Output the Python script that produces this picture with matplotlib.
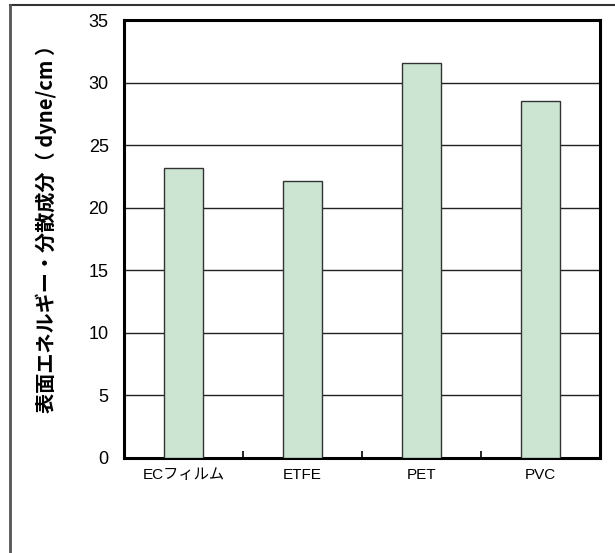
# coding: utf-8
'''
Bar chart of surface energy (dispersion component) per film
'''

import matplotlib.pyplot as plt
from matplotlib.lines import Line2D

plt.rcParams['font.family'] = ['Liberation Sans', 'Noto Sans CJK JP']

# sample data
films = ['ECフィルム', 'ETFE', 'PET', 'PVC']
dispersion = [23.2, 22.1, 31.55, 28.5]
yticks = [0, 5, 10, 15, 20, 25, 30, 35]

fig = plt.figure(figsize=(6.15, 5.53), dpi=100)
ax = fig.add_axes([0.2016, 0.1718, 0.774, 0.792])

x = range(len(films))
ax.bar(x, dispersion, width=0.32, color='#cce5d3', edgecolor='#333333',
       linewidth=1.0, zorder=3)

ax.set_ylim(0, 35)
ax.set_xlim(-0.5, len(films) - 0.5)
ax.set_yticks(yticks)
ax.tick_params(axis='y', length=0, pad=11, labelsize=13)
ax.set_xticks(list(x))
ax.set_xticklabels(films)
ax.tick_params(axis='x', which='major', length=0, pad=7, labelsize=11)
ax.set_xticks([0.5, 1.5, 2.5], minor=True)
ax.tick_params(axis='x', which='minor', direction='in', length=5, width=1.2)

ax.grid(axis='y', color='#222222', linewidth=1.0, zorder=1)
for s in ax.spines.values():
    s.set_linewidth(2.2)

ax.set_ylabel('表面エネルギー・分散成分（ dyne/cm ）', fontsize=14.5,
              fontweight='bold', family=['Noto Sans CJK JP'])
ax.yaxis.set_label_coords(-0.14, 0.535)

# outer frame (top and left edges only)
fig.add_artist(Line2D([0.017, 1.0], [0.991, 0.991], transform=fig.transFigure,
                      color='#333333', linewidth=1.5))
fig.add_artist(Line2D([0.017, 0.017], [0.0, 0.991], transform=fig.transFigure,
                      color='#555555', linewidth=2.0))

fig.savefig('out.png', dpi=100)
